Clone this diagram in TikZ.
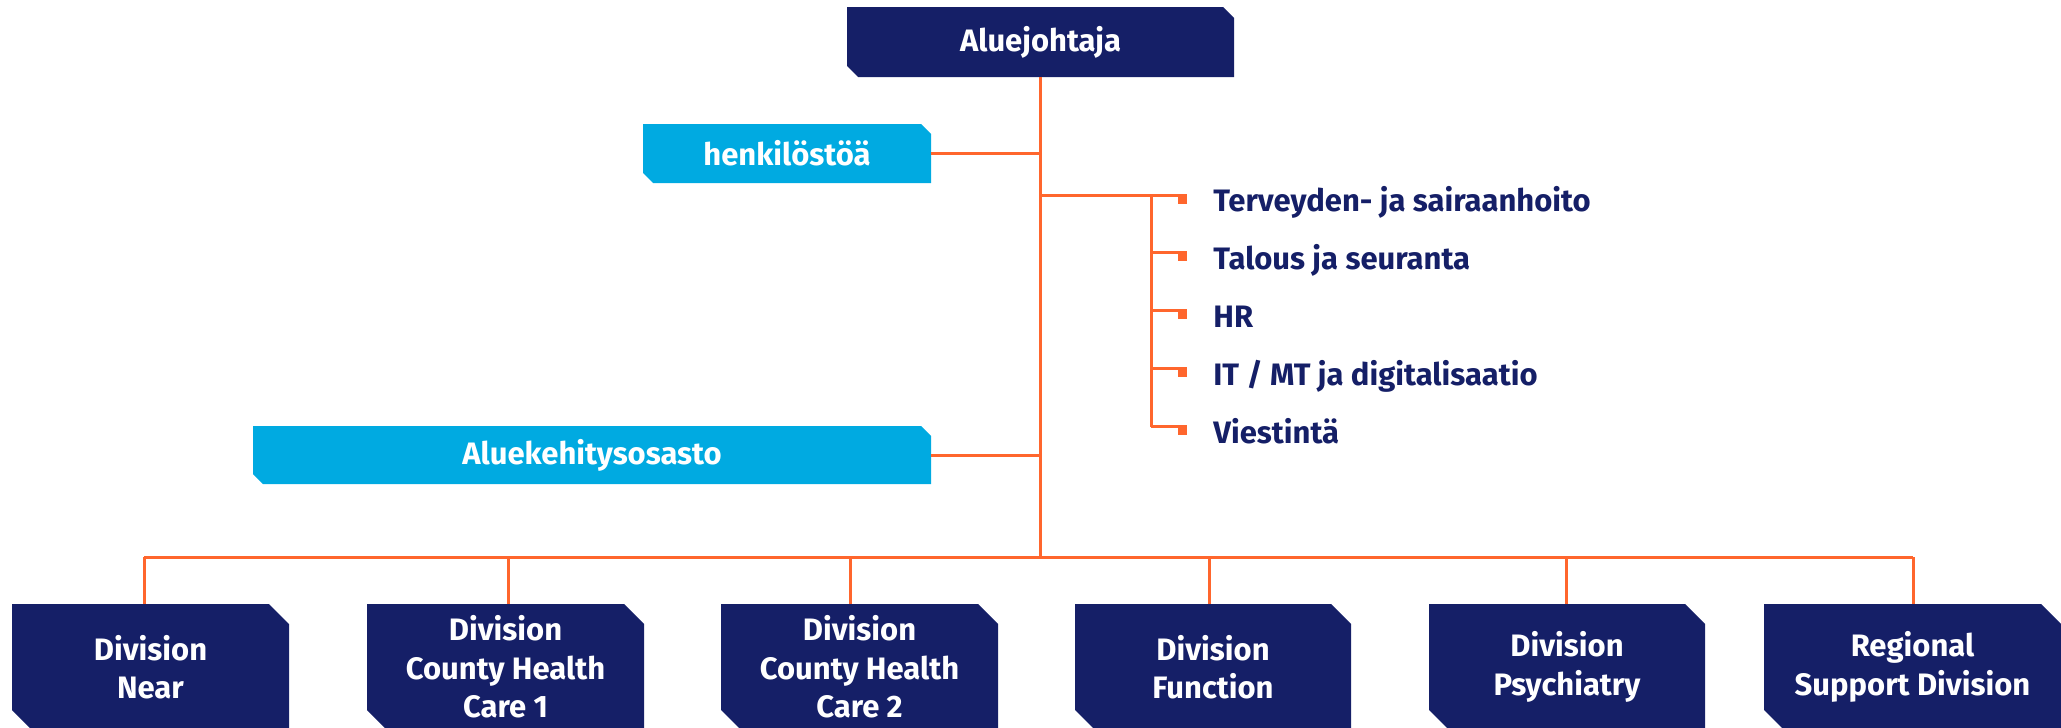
\documentclass[tikz,border=0pt]{standalone}
\usepackage{fontspec}
\setmainfont{Fira Sans}
\definecolor{navy}{RGB}{21,31,103}
\definecolor{sky}{RGB}{0,170,225}
\definecolor{orng}{RGB}{255,102,45}
\begin{document}
\begin{tikzpicture}[x=0.5pt,y=-0.5pt,
  cutbox/.style n args={4}{inner sep=0pt, outer sep=0pt, minimum width=#2, minimum height=#3,
    text=white, align=center, font=\bfseries\fontsize{15.5}{19.25}\selectfont,
    path picture={\fill[#1] (path picture bounding box.north west)
      -- ([xshift=-#4]path picture bounding box.north east)
      -- ([yshift=-#4]path picture bounding box.north east)
      -- (path picture bounding box.south east)
      -- ([xshift=#4]path picture bounding box.south west)
      -- ([yshift=#4]path picture bounding box.south west) -- cycle;}},
  link/.style={draw=orng, line width=1.5pt},
  marker/.style={fill=orng, inner sep=0pt, minimum width=4.5pt, minimum height=5pt},
  item/.style={anchor=base west, inner sep=0pt, text=navy, font=\bfseries\fontsize{15.5}{18}\selectfont}
]
\useasboundingbox (0,0) rectangle (2061,728);
\clip (0,0) rectangle (2061,728);

% nodes
\node[cutbox={navy}{193.5pt}{35pt}{5.5pt}] (top) at (1040.5,42) {Aluejohtaja};
\node[cutbox={sky}{144pt}{29.5pt}{5pt}] (henk) at (787,153.5) {henkilöstöä};
\node[cutbox={sky}{339pt}{29pt}{5pt}] (alue) at (592,455) {Aluekehitysosasto};

\node[cutbox={navy}{138.5pt}{63pt}{10pt}] (d1) at (150.5,667) {Division\\Near};
\node[cutbox={navy}{138.5pt}{63pt}{10pt}] (d2) at (505.5,667) {Division\\County Health\\Care 1};
\node[cutbox={navy}{138.5pt}{63pt}{10pt}] (d3) at (859.5,667) {Division\\County Health\\Care 2};
\node[cutbox={navy}{138pt}{63pt}{10pt}] (d4) at (1213,667) {Division\\Function};
\node[cutbox={navy}{138pt}{63pt}{10pt}] (d5) at (1567,667) {Division\\Psychiatry};
\node[cutbox={navy}{148.5pt}{63pt}{10pt}] (d6) at (1912.5,667) {Regional\\Support Division};

% staff list
\foreach \i/\y/\t in {1/195/{Terveyden- ja sairaanhoito},2/252.9/{Talous ja seuranta},3/310.8/{HR},4/368.7/{IT / MT ja digitalisaatio},5/426.6/{Viestintä}}{
  \coordinate (l\i) at (1151,\y);
  \node[marker] (m\i) at (1182.5,\y+3.5) {};
  \node[item] (s\i) at (1213,\y+16.5) {\t};
}

% connectors
\coordinate (bus) at (1040.5,557);
\draw[link] (top.south) -- (bus);
\draw[link] (henk.east) -- (henk.east -| top.south);
\draw[link] (alue.east) -- (alue.east -| top.south);
\draw[link] (l1 -| top.south) -- (l1 -| m1.west);
\draw[link] (l1) -- (l5);
\foreach \i in {2,3,4,5}{
  \draw[link] (l\i) -- (l\i -| m\i.west);
}
\foreach \i/\x in {1/144,2/508,3/850,4/1209,5/1566,6/1913}{
  \coordinate (b\i) at (\x,557);
  \draw[link] (b\i) -- (b\i |- d\i.north);
}
\draw[link] (b1) -- (b6);
\end{tikzpicture}
\end{document}
